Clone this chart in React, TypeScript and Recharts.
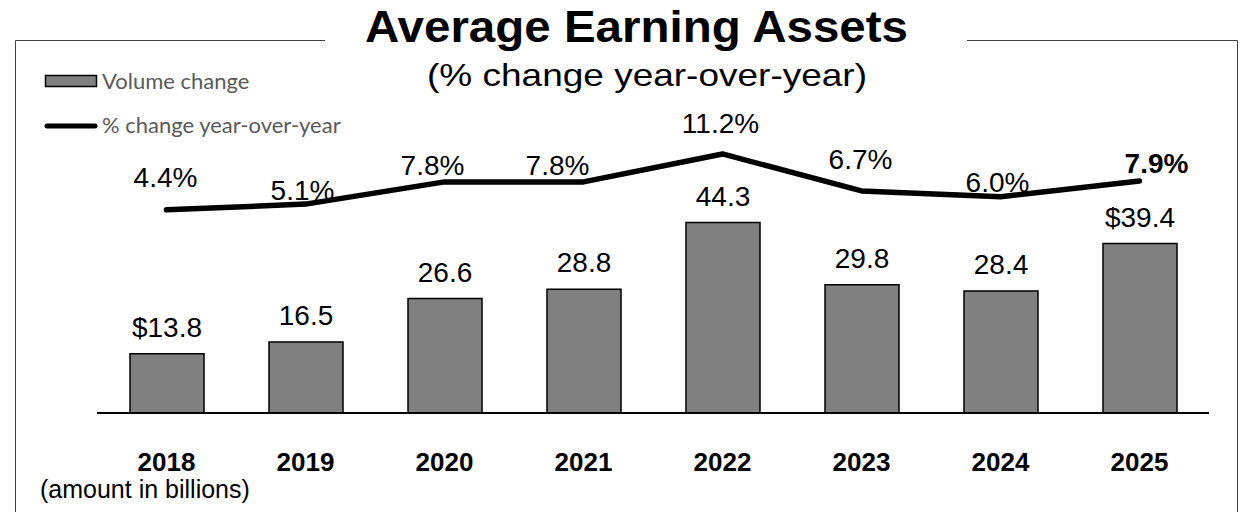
import React from 'react';
import { ComposedChart, Bar, Line, XAxis, YAxis, Legend } from 'recharts';

const years = ['2018', '2019', '2020', '2021', '2022', '2023', '2024', '2025'];
const volumeChange = [13.8, 16.5, 26.6, 28.8, 44.3, 29.8, 28.4, 39.4];
const pctChange = [4.4, 5.1, 7.8, 7.8, 11.2, 6.7, 6.0, 7.9];
const volumeLabels = ['$13.8', '16.5', '26.6', '28.8', '44.3', '29.8', '28.4', '$39.4'];
const pctLabels = ['4.4%', '5.1%', '7.8%', '7.8%', '11.2%', '6.7%', '6.0%', '7.9%'];

// label placement offsets (dx, dy) relative to each line point
const pctLabelOffsets: [number, number][] = [
  [-1, -23], [-3, -4], [-12, -7], [-26, -7], [-2, -21], [-1, -22], [-3, -5], [17, -8],
];

const data = years.map((year, i) => ({
  year,
  volume: volumeChange[i],
  pct: pctChange[i],
}));

const ARIAL = '"Liberation Sans", Arial, sans-serif';
const LEGEND_FONT = 'Lato, "Noto Sans", sans-serif';

const BarLabel = (props: any) => {
  const { x, y, width, index } = props;
  return (
    <text x={x + width / 2} y={y - 17} textAnchor="middle" fontFamily={ARIAL} fontSize={28} fill="#000">
      {volumeLabels[index]}
    </text>
  );
};

const LineLabel = (props: any) => {
  const { x, y, index } = props;
  const [dx, dy] = pctLabelOffsets[index] || [0, -10];
  const last = index === years.length - 1;
  return (
    <text
      x={x + dx}
      y={y + dy}
      textAnchor="middle"
      fontFamily={ARIAL}
      fontSize={28}
      fontWeight={last ? 'bold' : 'normal'}
      fill="#000"
    >
      {pctLabels[index]}
    </text>
  );
};

const YearTick = (props: any) => {
  const { x, payload } = props;
  return (
    <text x={x} y={471} textAnchor="middle" fontFamily={ARIAL} fontSize={26} fontWeight="bold" fill="#000">
      {payload.value}
    </text>
  );
};

const LegendContent = () => (
  <svg width={380} height={80} style={{ display: 'block', overflow: 'visible' }}>
    <rect x={45.5} y={5.5} width={51} height={11} fill="#808080" stroke="#000" strokeWidth={1.5} />
    <text x={102} y={19} fontFamily={LEGEND_FONT} fontSize={22} fill="#595959">Volume change</text>
    <line x1={47} y1={56} x2={95} y2={56} stroke="#000" strokeWidth={5} strokeLinecap="round" />
    <text x={102} y={63} fontFamily={LEGEND_FONT} fontSize={22} fill="#595959">% change year-over-year</text>
  </svg>
);

export default function App() {
  return (
    <div style={{ position: 'fixed', left: 0, top: 0, width: 1243, height: 512, background: '#fff', overflow: 'hidden' }}>
      <svg width={1243} height={512} style={{ position: 'absolute', left: 0, top: 0 }}>
        <line x1={15.5} y1={40.5} x2={325} y2={40.5} stroke="#404040" strokeWidth={1} />
        <line x1={967} y1={40.5} x2={1237.5} y2={40.5} stroke="#404040" strokeWidth={1} />
        <line x1={15.5} y1={40.5} x2={15.5} y2={512} stroke="#404040" strokeWidth={1} />
        <line x1={1237.5} y1={40.5} x2={1237.5} y2={512} stroke="#404040" strokeWidth={1} />
        <text x={365} y={42} fontFamily={ARIAL} fontSize={45} fontWeight="bold" fill="#000"
          textLength={543} lengthAdjust="spacingAndGlyphs">
          Average Earning Assets
        </text>
        <text x={427} y={86} fontFamily={ARIAL} fontSize={32} fill="#000"
          textLength={440} lengthAdjust="spacingAndGlyphs">
          (% change year-over-year)
        </text>
        <text x={40} y={498} fontFamily={ARIAL} fontSize={25} fill="#000">
          (amount in billions)
        </text>
      </svg>
      <div style={{ position: 'absolute', left: 0, top: 0 }}>
        <ComposedChart
          width={1243}
          height={512}
          data={data}
          margin={{ top: 112, left: 97, right: 34, bottom: 29 }}
        >
          <XAxis
            dataKey="year"
            height={70}
            axisLine={{ stroke: '#000', strokeWidth: 2 }}
            tickLine={false}
            tick={<YearTick />}
            interval={0}
          />
          <YAxis yAxisId="bar" domain={[0, 70]} hide />
          <YAxis yAxisId="pct" orientation="right" domain={[-20.3, 16.3]} hide />
          <Legend
            layout="vertical"
            align="center"
            verticalAlign="middle"
            wrapperStyle={{ position: 'absolute', left: 0, top: 70, width: 380 }}
            content={<LegendContent />}
          />
          <Bar
            yAxisId="bar"
            dataKey="volume"
            name="Volume change"
            barSize={74}
            fill="#808080"
            stroke="#000"
            strokeWidth={1.5}
            isAnimationActive={false}
            label={<BarLabel />}
          />
          <Line
            yAxisId="pct"
            dataKey="pct"
            name="% change year-over-year"
            type="linear"
            stroke="#000"
            strokeWidth={5.5}
            strokeLinecap="round"
            strokeLinejoin="round"
            dot={false}
            isAnimationActive={false}
            label={<LineLabel />}
          />
        </ComposedChart>
      </div>
    </div>
  );
}
